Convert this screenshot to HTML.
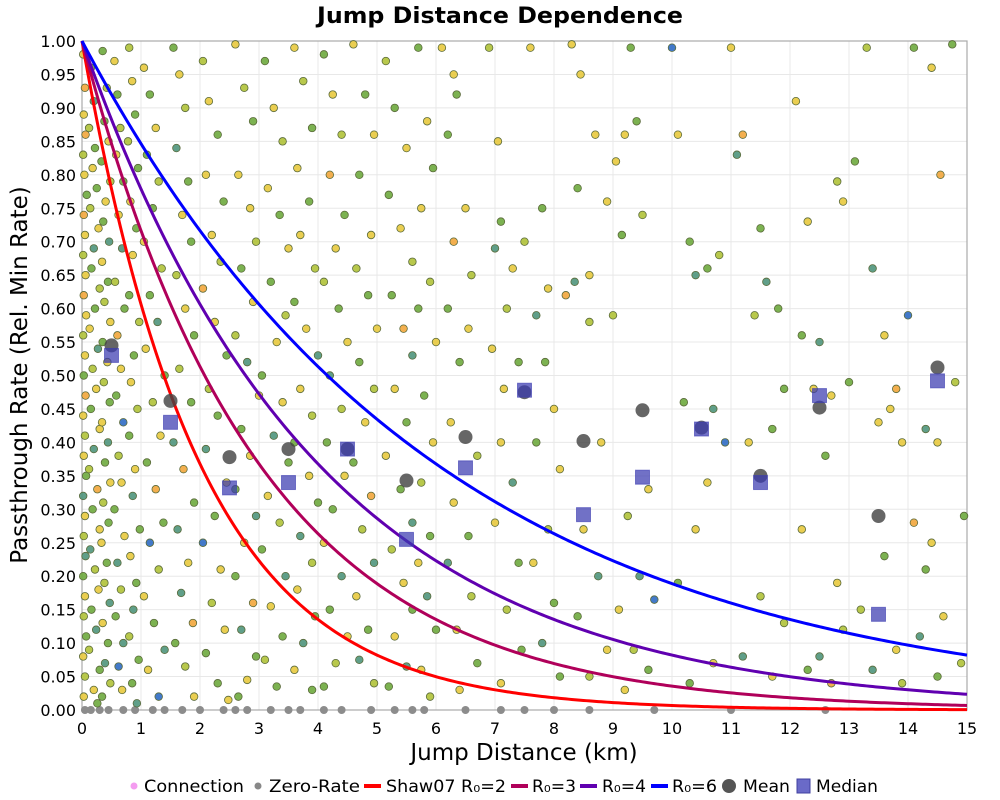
<!DOCTYPE html>
<html><head><meta charset="utf-8">
<style>
body{margin:0;background:#fff;}
svg{display:block;font-family:"DejaVu Sans","Liberation Sans",sans-serif;}
</style></head>
<body>
<svg id="chart" width="1000" height="800" xmlns="http://www.w3.org/2000/svg">
<text x="500" y="23" text-anchor="middle" font-size="22" font-weight="bold" fill="#000" textLength="366" lengthAdjust="spacingAndGlyphs">Jump Distance Dependence</text>
<g id="grid"></g>
<g id="ticks"></g>
<rect x="82" y="41" width="885" height="669" fill="none" stroke="#aaa" stroke-width="1.2"/>
<g id="points"></g>
<g id="curves"></g>
<g id="stats"></g>
<text x="524" y="760" text-anchor="middle" font-size="23" fill="#000">Jump Distance (km)</text>
<text transform="translate(27,375) rotate(-90)" text-anchor="middle" font-size="23" fill="#000">Passthrough Rate (Rel. Min Rate)</text>
<g id="legend" font-size="17" fill="#000">
  <g><circle cx="134" cy="786" r="3.5" fill="#f49cf0"/><text x="144" y="792" textLength="100" lengthAdjust="spacingAndGlyphs">Connection</text></g>
  <g><circle cx="258" cy="786" r="3.5" fill="#888"/><text x="269" y="792" textLength="91" lengthAdjust="spacingAndGlyphs">Zero-Rate</text></g>
  <g><rect x="364" y="784" width="17" height="4" fill="#f00"/><text x="386" y="792" textLength="120" lengthAdjust="spacingAndGlyphs">Shaw07 R₀=2</text></g>
  <g><rect x="511" y="784" width="17" height="4" fill="#b0005a"/><text x="532" y="792" textLength="44" lengthAdjust="spacingAndGlyphs">R₀=3</text></g>
  <g><rect x="580" y="784" width="17" height="4" fill="#6000b0"/><text x="602" y="792" textLength="44" lengthAdjust="spacingAndGlyphs">R₀=4</text></g>
  <g><rect x="651" y="784" width="17" height="4" fill="#0000ff"/><text x="672" y="792" textLength="45" lengthAdjust="spacingAndGlyphs">R₀=6</text></g>
  <g><circle cx="729" cy="786" r="7" fill="#555"/><text x="743" y="792" textLength="47" lengthAdjust="spacingAndGlyphs">Mean</text></g>
  <g><rect x="797" y="779" width="13" height="14" fill="#6a6ac8" stroke="#4040a0"/><text x="816" y="792" textLength="62" lengthAdjust="spacingAndGlyphs">Median</text></g>
</g>
</svg>
<script>
const xTicks=[0,1,2,3,4,5,6,7,8,9,10,11,12,13,14,15];
const yTicks=[0,0.05,0.1,0.15,0.2,0.25,0.3,0.35,0.4,0.45,0.5,0.55,0.6,0.65,0.7,0.75,0.8,0.85,0.9,0.95,1.0];
const binCenters=[0.5,1.5,2.5,3.5,4.5,5.5,6.5,7.5,8.5,9.5,10.5,11.5,12.5,13.5,14.5];
const meanValues=[0.545,0.462,0.378,0.39,0.39,0.343,0.408,0.475,0.402,0.448,0.422,0.35,0.452,0.29,0.512];
const medianValues=[0.53,0.43,0.332,0.34,0.39,0.255,0.362,0.478,0.292,0.348,0.42,0.34,0.47,0.143,0.492];
const r0Values=[2,3,4,6];
const curveColors=['#ff0000','#b0005a','#6000b0','#0000ff'];
const zeroRateX=[0.05,0.15,0.3,0.45,0.7,0.9,1.2,1.4,1.7,2.0,2.4,2.6,2.8,3.2,3.5,3.7,4.1,4.4,4.9,5.3,5.6,5.8,6.5,7.1,7.5,8.0,8.6,9.7,11.0,12.6];
const scatter=[
[0.02,0.98,'y'],[0.05,0.93,'o'],[0.03,0.89,'y'],[0.06,0.86,'o'],[0.02,0.83,'l'],[0.04,0.80,'y'],[0.08,0.77,'g'],[0.03,0.74,'o'],[0.05,0.71,'y'],[0.02,0.68,'l'],[0.06,0.65,'y'],[0.03,0.62,'o'],[0.07,0.59,'y'],[0.02,0.56,'l'],[0.05,0.53,'y'],[0.03,0.50,'g'],[0.06,0.47,'o'],[0.02,0.44,'y'],[0.05,0.41,'l'],[0.03,0.38,'y'],[0.07,0.35,'g'],[0.02,0.32,'t'],[0.05,0.29,'y'],[0.03,0.26,'l'],[0.06,0.23,'t'],[0.02,0.20,'g'],[0.05,0.17,'y'],[0.03,0.14,'l'],[0.07,0.11,'g'],[0.02,0.08,'y'],[0.05,0.05,'l'],[0.03,0.02,'y'],
[0.15,0.96,'g'],[0.2,0.91,'t'],[0.12,0.87,'l'],[0.22,0.84,'g'],[0.18,0.81,'y'],[0.25,0.78,'g'],[0.14,0.75,'l'],[0.28,0.72,'y'],[0.2,0.69,'t'],[0.16,0.66,'g'],[0.3,0.63,'l'],[0.22,0.60,'g'],[0.13,0.57,'y'],[0.27,0.54,'t'],[0.18,0.51,'l'],[0.24,0.48,'y'],[0.15,0.45,'g'],[0.3,0.42,'y'],[0.2,0.39,'t'],[0.12,0.36,'l'],[0.26,0.33,'o'],[0.18,0.30,'g'],[0.3,0.27,'y'],[0.14,0.24,'t'],[0.22,0.21,'l'],[0.28,0.18,'y'],[0.16,0.15,'g'],[0.24,0.12,'t'],[0.12,0.09,'l'],[0.3,0.06,'g'],[0.2,0.03,'y'],[0.26,0.01,'g'],
[0.35,0.985,'g'],[0.42,0.93,'l'],[0.38,0.88,'g'],[0.45,0.85,'y'],[0.33,0.82,'g'],[0.48,0.79,'l'],[0.4,0.76,'y'],[0.36,0.73,'g'],[0.46,0.70,'t'],[0.34,0.67,'y'],[0.44,0.64,'g'],[0.38,0.61,'l'],[0.48,0.58,'y'],[0.35,0.55,'g'],[0.43,0.52,'y'],[0.37,0.49,'l'],[0.47,0.46,'g'],[0.34,0.43,'y'],[0.44,0.40,'t'],[0.39,0.37,'g'],[0.48,0.34,'y'],[0.36,0.31,'l'],[0.45,0.28,'g'],[0.33,0.25,'y'],[0.42,0.22,'g'],[0.38,0.19,'l'],[0.47,0.16,'t'],[0.35,0.13,'y'],[0.44,0.10,'g'],[0.39,0.07,'t'],[0.48,0.04,'l'],[0.34,0.02,'g'],
[0.55,0.97,'y'],[0.6,0.92,'g'],[0.65,0.87,'l'],[0.58,0.83,'y'],[0.7,0.79,'g'],[0.62,0.74,'y'],[0.68,0.69,'t'],[0.56,0.64,'l'],[0.72,0.60,'g'],[0.6,0.56,'o'],[0.66,0.51,'y'],[0.58,0.47,'g'],[0.7,0.43,'b'],[0.62,0.38,'l'],[0.67,0.34,'y'],[0.55,0.30,'g'],[0.72,0.26,'y'],[0.6,0.22,'t'],[0.66,0.18,'l'],[0.57,0.14,'g'],[0.7,0.10,'t'],[0.62,0.065,'b'],[0.68,0.03,'y'],
[0.8,0.99,'l'],[0.85,0.94,'y'],[0.9,0.89,'g'],[0.78,0.85,'l'],[0.95,0.81,'g'],[0.82,0.76,'y'],[0.92,0.72,'g'],[0.86,0.68,'y'],[0.8,0.62,'g'],[0.97,0.58,'l'],[0.88,0.53,'g'],[0.83,0.49,'y'],[0.94,0.45,'l'],[0.8,0.41,'g'],[0.9,0.36,'y'],[0.86,0.32,'t'],[0.98,0.27,'g'],[0.82,0.23,'y'],[0.92,0.19,'g'],[0.87,0.15,'t'],[0.8,0.11,'l'],[0.96,0.075,'g'],[0.85,0.04,'g'],[0.93,0.01,'t'],
[1.05,0.96,'y'],[1.15,0.92,'g'],[1.25,0.87,'y'],[1.1,0.83,'g'],[1.3,0.79,'l'],[1.2,0.75,'g'],[1.05,0.70,'y'],[1.35,0.66,'l'],[1.15,0.62,'g'],[1.28,0.58,'t'],[1.08,0.54,'y'],[1.4,0.50,'g'],[1.2,0.46,'l'],[1.33,0.41,'y'],[1.1,0.37,'g'],[1.25,0.33,'o'],[1.38,0.28,'g'],[1.15,0.25,'b'],[1.3,0.21,'l'],[1.05,0.17,'y'],[1.22,0.13,'g'],[1.4,0.09,'t'],[1.12,0.06,'y'],[1.3,0.02,'b'],
[1.55,0.99,'g'],[1.65,0.95,'y'],[1.75,0.90,'l'],[1.6,0.84,'t'],[1.8,0.79,'g'],[1.7,0.74,'y'],[1.85,0.70,'g'],[1.6,0.65,'l'],[1.75,0.60,'y'],[1.9,0.56,'g'],[1.65,0.51,'l'],[1.85,0.46,'g'],[1.55,0.40,'t'],[1.72,0.36,'o'],[1.9,0.31,'g'],[1.62,0.27,'t'],[1.8,0.22,'y'],[1.68,0.175,'t'],[1.88,0.13,'o'],[1.58,0.10,'g'],[1.75,0.065,'l'],[1.9,0.02,'y'],
[2.05,0.97,'l'],[2.15,0.91,'y'],[2.3,0.86,'g'],[2.1,0.80,'y'],[2.4,0.76,'g'],[2.2,0.71,'y'],[2.35,0.67,'l'],[2.05,0.63,'o'],[2.25,0.58,'y'],[2.45,0.53,'g'],[2.15,0.48,'l'],[2.3,0.44,'g'],[2.1,0.39,'t'],[2.45,0.34,'y'],[2.25,0.29,'g'],[2.05,0.25,'b'],[2.35,0.21,'y'],[2.2,0.16,'l'],[2.42,0.12,'y'],[2.1,0.085,'g'],[2.3,0.04,'g'],[2.48,0.015,'y'],
[2.6,0.995,'y'],[2.75,0.93,'l'],[2.9,0.88,'g'],[2.65,0.80,'y'],[2.85,0.75,'y'],[2.95,0.70,'l'],[2.7,0.66,'g'],[2.9,0.61,'y'],[2.6,0.56,'l'],[2.8,0.52,'t'],[3.0,0.47,'y'],[2.7,0.42,'g'],[2.85,0.38,'y'],[2.6,0.33,'g'],[2.95,0.29,'t'],[2.75,0.25,'y'],[2.6,0.20,'g'],[2.9,0.16,'o'],[2.7,0.12,'t'],[2.95,0.08,'g'],[2.8,0.045,'y'],[2.65,0.02,'g'],
[3.1,0.97,'g'],[3.25,0.90,'y'],[3.4,0.85,'l'],[3.15,0.78,'y'],[3.35,0.74,'g'],[3.5,0.69,'y'],[3.2,0.64,'g'],[3.45,0.59,'l'],[3.3,0.55,'y'],[3.05,0.50,'g'],[3.4,0.46,'y'],[3.25,0.41,'t'],[3.5,0.37,'g'],[3.15,0.32,'y'],[3.35,0.28,'l'],[3.05,0.24,'g'],[3.45,0.20,'t'],[3.2,0.155,'y'],[3.4,0.11,'g'],[3.1,0.075,'l'],[3.3,0.035,'g'],
[3.6,0.99,'y'],[3.75,0.94,'l'],[3.9,0.87,'g'],[3.65,0.81,'y'],[3.85,0.76,'g'],[3.7,0.71,'y'],[3.95,0.66,'l'],[3.6,0.61,'g'],[3.8,0.57,'y'],[4.0,0.53,'t'],[3.7,0.48,'y'],[3.9,0.44,'l'],[3.6,0.40,'g'],[3.85,0.35,'y'],[4.0,0.31,'g'],[3.7,0.26,'t'],[3.9,0.22,'l'],[3.65,0.18,'y'],[3.95,0.14,'g'],[3.75,0.10,'t'],[3.6,0.06,'y'],[3.9,0.03,'g'],
[4.1,0.98,'g'],[4.25,0.92,'y'],[4.4,0.86,'l'],[4.2,0.80,'o'],[4.45,0.74,'g'],[4.3,0.69,'y'],[4.1,0.64,'l'],[4.35,0.60,'g'],[4.5,0.55,'y'],[4.2,0.50,'t'],[4.4,0.45,'l'],[4.15,0.40,'g'],[4.45,0.35,'y'],[4.25,0.30,'g'],[4.1,0.25,'y'],[4.4,0.20,'t'],[4.2,0.15,'g'],[4.5,0.11,'y'],[4.3,0.07,'l'],[4.1,0.035,'g'],
[4.6,0.995,'y'],[4.8,0.92,'g'],[4.95,0.86,'y'],[4.7,0.80,'g'],[4.9,0.71,'y'],[4.65,0.66,'l'],[4.85,0.62,'g'],[5.0,0.57,'y'],[4.7,0.52,'g'],[4.95,0.48,'l'],[4.8,0.43,'y'],[4.6,0.37,'g'],[4.9,0.32,'o'],[4.75,0.27,'l'],[4.95,0.22,'t'],[4.65,0.17,'y'],[4.85,0.12,'g'],[4.7,0.075,'t'],[4.95,0.04,'l'],
[5.15,0.97,'l'],[5.3,0.90,'g'],[5.5,0.84,'y'],[5.2,0.77,'g'],[5.4,0.72,'y'],[5.6,0.67,'l'],[5.25,0.62,'g'],[5.45,0.57,'o'],[5.6,0.53,'t'],[5.3,0.48,'y'],[5.5,0.43,'g'],[5.15,0.38,'y'],[5.4,0.33,'g'],[5.6,0.28,'t'],[5.25,0.24,'l'],[5.45,0.19,'y'],[5.6,0.15,'g'],[5.3,0.11,'y'],[5.5,0.065,'t'],[5.2,0.035,'g'],
[5.7,0.99,'g'],[5.85,0.88,'y'],[5.95,0.81,'g'],[5.75,0.75,'y'],[5.9,0.64,'l'],[5.7,0.60,'g'],[6.0,0.55,'y'],[5.8,0.47,'g'],[5.95,0.40,'y'],[5.75,0.34,'l'],[5.9,0.26,'g'],[5.7,0.22,'y'],[5.85,0.17,'t'],[6.0,0.12,'g'],[5.75,0.06,'y'],[5.9,0.02,'l'],
[6.1,0.99,'y'],[6.3,0.95,'y'],[6.35,0.92,'g'],[6.2,0.86,'g'],[6.5,0.75,'y'],[6.3,0.70,'o'],[6.6,0.65,'l'],[6.2,0.60,'g'],[6.55,0.57,'y'],[6.4,0.52,'g'],[6.25,0.43,'y'],[6.7,0.38,'l'],[6.3,0.31,'y'],[6.55,0.26,'g'],[6.2,0.22,'t'],[6.6,0.17,'l'],[6.35,0.12,'y'],[6.7,0.07,'g'],[6.4,0.03,'y'],
[6.9,0.99,'l'],[7.05,0.85,'y'],[7.1,0.73,'g'],[7.0,0.69,'t'],[7.2,0.60,'l'],[6.95,0.54,'y'],[7.15,0.48,'y'],[7.4,0.52,'g'],[7.5,0.70,'l'],[7.3,0.66,'y'],[7.1,0.40,'y'],[7.3,0.34,'t'],[7.0,0.28,'y'],[7.4,0.22,'g'],[7.2,0.15,'l'],[7.45,0.09,'g'],[7.1,0.04,'y'],
[7.6,0.99,'y'],[7.8,0.75,'g'],[7.9,0.63,'y'],[7.7,0.59,'t'],[7.85,0.52,'g'],[8.0,0.45,'y'],[7.7,0.40,'g'],[8.1,0.36,'y'],[7.9,0.27,'l'],[7.65,0.22,'y'],[8.0,0.16,'g'],[7.8,0.10,'t'],[8.1,0.05,'g'],
[8.3,0.995,'y'],[8.45,0.95,'y'],[8.35,0.64,'t'],[8.6,0.65,'y'],[8.4,0.78,'g'],[8.2,0.62,'o'],[8.7,0.86,'y'],[8.9,0.76,'y'],[8.6,0.58,'l'],[8.8,0.40,'y'],[8.5,0.27,'y'],[8.75,0.20,'t'],[8.4,0.14,'g'],[8.9,0.09,'y'],[8.6,0.05,'l'],
[9.05,0.82,'y'],[9.2,0.86,'y'],[9.4,0.88,'g'],[9.3,0.99,'g'],[9.15,0.71,'g'],[9.5,0.74,'l'],[9.0,0.59,'l'],[9.6,0.33,'y'],[9.25,0.29,'l'],[9.45,0.20,'t'],[9.7,0.165,'b'],[9.1,0.15,'y'],[9.35,0.09,'l'],[9.6,0.06,'g'],[9.2,0.03,'y'],
[10.0,0.99,'b'],[10.1,0.86,'y'],[10.3,0.70,'g'],[10.4,0.65,'t'],[10.6,0.66,'g'],[10.8,0.68,'l'],[10.2,0.46,'g'],[10.7,0.45,'t'],[10.9,0.40,'b'],[10.6,0.34,'y'],[10.4,0.27,'y'],[10.1,0.19,'g'],[10.7,0.07,'y'],[10.3,0.04,'g'],
[11.0,0.99,'y'],[11.2,0.86,'o'],[11.1,0.83,'t'],[11.5,0.72,'g'],[11.6,0.64,'t'],[11.8,0.60,'g'],[11.4,0.59,'l'],[11.7,0.42,'g'],[11.3,0.40,'y'],[11.9,0.48,'g'],[11.5,0.17,'l'],[11.2,0.08,'t'],[11.7,0.05,'y'],[11.9,0.13,'l'],
[12.1,0.91,'y'],[12.3,0.73,'y'],[12.2,0.56,'g'],[12.5,0.55,'t'],[12.8,0.79,'l'],[12.9,0.76,'y'],[12.4,0.48,'y'],[12.7,0.47,'y'],[12.6,0.38,'g'],[12.2,0.27,'y'],[12.8,0.19,'y'],[12.9,0.12,'l'],[12.5,0.08,'t'],[12.3,0.06,'g'],[12.7,0.04,'o'],
[13.1,0.82,'g'],[13.4,0.66,'t'],[13.3,0.99,'l'],[13.6,0.56,'y'],[13.8,0.48,'o'],[13.7,0.45,'y'],[13.0,0.49,'g'],[13.5,0.43,'y'],[13.9,0.40,'y'],[13.6,0.23,'g'],[13.2,0.15,'l'],[13.8,0.09,'y'],[13.4,0.06,'t'],[13.9,0.04,'l'],
[14.1,0.99,'g'],[14.4,0.96,'y'],[14.55,0.80,'o'],[14.0,0.59,'b'],[14.3,0.42,'t'],[14.5,0.40,'y'],[14.1,0.28,'o'],[14.4,0.25,'y'],[14.3,0.21,'g'],[14.8,0.49,'l'],[14.95,0.29,'g'],[14.6,0.14,'y'],[14.5,0.05,'g'],[14.9,0.07,'l'],[14.2,0.11,'t'],[14.75,0.995,'g']
];
const colorMap={y:'#e8c93e',l:'#b0c238',g:'#6eaa3e',t:'#4f957c',o:'#f2a63c',b:'#2f6cc4'};
const X0=82,X1=967,Y0=710,Y1=41;
const xs=v=>X0+(v-0)/(15-0)*(X1-X0);
const ys=v=>Y0-(v-0)/(1-0)*(Y0-Y1);
const NS='http://www.w3.org/2000/svg';
function mk(tag,attrs,parent){const e=document.createElementNS(NS,tag);for(const k in attrs)e.setAttribute(k,attrs[k]);parent.appendChild(e);return e;}
const grid=document.getElementById('grid'),ticks=document.getElementById('ticks');
xTicks.forEach(t=>{
  const gl=mk('line',{x1:xs(t),x2:xs(t),y1:Y1,y2:Y0,stroke:'#e8e8e8','stroke-width':1},grid);
  
  
  const tl=mk('text',{x:xs(t),y:Y0+24,'text-anchor':'middle','font-size':16,fill:'#000'},ticks);
  tl.textContent=t;
  
  
});
yTicks.forEach(t=>{
  const gl=mk('line',{x1:X0,x2:X1,y1:ys(t),y2:ys(t),stroke:'#e8e8e8','stroke-width':1},grid);
  
  
  const tl=mk('text',{x:X0-6,y:ys(t)+6,'text-anchor':'end','font-size':16,fill:'#000'},ticks);
  tl.textContent=t.toFixed(2);
  
  
});
const pts=document.getElementById('points');
zeroRateX.forEach(v=>{
  const c=mk('circle',{cx:xs(v),cy:ys(0),r:4,fill:'#8c8c8c'},pts);
  
  
});
scatter.forEach(p=>{
  const c=mk('circle',{cx:xs(p[0]),cy:ys(p[1]),r:3.8,fill:colorMap[p[2]],stroke:'#5a6a3a','stroke-width':0.8,'fill-opacity':0.9},pts);
  
  
});
const curves=document.getElementById('curves');
r0Values.forEach((r,i)=>{
  let d='';
  for(let k=0;k<=300;k++){const x=15*k/300;d+=(k?'L':'M')+xs(x).toFixed(2)+','+ys(Math.exp(-x/r)).toFixed(2);}
  const p=mk('path',{d:d,fill:'none',stroke:curveColors[i],'stroke-width':3},curves);
  
  
});
const stats=document.getElementById('stats');
binCenters.forEach((b,i)=>{
  const c=mk('circle',{cx:xs(b),cy:ys(meanValues[i]),r:7,fill:'#444','fill-opacity':0.82},stats);
  
  
  const s=mk('rect',{x:xs(b)-7,y:ys(medianValues[i])-7,width:14,height:14,fill:'#3a3ab0','fill-opacity':0.72,stroke:'#3a3ab0','stroke-opacity':0.6},stats);
  
  
});
</script>
</body></html>
